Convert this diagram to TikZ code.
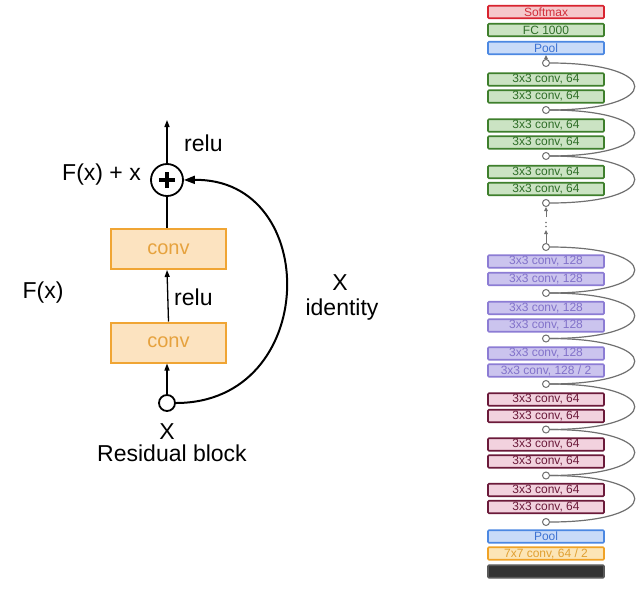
\documentclass[tikz,border=0pt]{standalone}
\usepackage{fontspec}
\setmainfont{Liberation Sans}
\usetikzlibrary{arrows.meta,backgrounds}
\definecolor{convF}{HTML}{FCE3C0}
\definecolor{convD}{HTML}{F0A534}
\definecolor{convT}{HTML}{E6A23E}
\definecolor{smxF}{HTML}{F5C8CB}
\definecolor{smxD}{HTML}{D8232F}
\definecolor{smxT}{HTML}{D22E3A}
\definecolor{grnF}{HTML}{CBE3C3}
\definecolor{grnD}{HTML}{3E7F2C}
\definecolor{grnT}{HTML}{2F6E28}
\definecolor{bluF}{HTML}{C9DBF8}
\definecolor{bluD}{HTML}{4C88E2}
\definecolor{bluT}{HTML}{3D72D2}
\definecolor{purF}{HTML}{CBC4EE}
\definecolor{purD}{HTML}{8C7CD4}
\definecolor{purT}{HTML}{8272CA}
\definecolor{marF}{HTML}{F2D2DE}
\definecolor{marD}{HTML}{6B1A3A}
\definecolor{marT}{HTML}{6B1A3A}
\definecolor{orgF}{HTML}{FCE5B6}
\definecolor{orgD}{HTML}{F0A226}
\definecolor{orgT}{HTML}{E0A032}
\definecolor{lineG}{HTML}{707070}
\begin{document}
\begin{tikzpicture}[x=1pt,y=-1pt,
  lbl/.style={font=\fontsize{23}{26}\selectfont, inner sep=0pt},
  convbox/.style={draw=convD, fill=convF, line width=2pt, minimum width=115pt, minimum height=40pt, inner sep=0pt, text=convT, font=\fontsize{20}{23}\selectfont},
  arr/.style={line width=1.3pt, -{Triangle[length=7pt,width=5pt]}},
  blk/.style={draw, rounded corners=1pt, line width=1.6pt, minimum width=116pt, minimum height=12.5pt, inner sep=0pt, font=\fontsize{12}{12}\selectfont},
  smx/.style={blk, draw=smxD, fill=smxF, text=smxT},
  grn/.style={blk, draw=grnD, fill=grnF, text=grnT},
  blu/.style={blk, draw=bluD, fill=bluF, text=bluT},
  pur/.style={blk, draw=purD, fill=purF, text=purT},
  mar/.style={blk, draw=marD, fill=marF, text=marT},
  org/.style={blk, draw=orgD, fill=orgF, text=orgT},
  drk/.style={blk, draw=black!65, fill=black!80},
  jn/.style={circle, draw=lineG, fill=white, line width=1pt, minimum size=7pt, inner sep=0pt},
  skip/.style={draw=lineG, line width=1.2pt},
  sarr/.style={draw=lineG, line width=1pt, -{Triangle[length=4pt,width=3.5pt]}}
]
\useasboundingbox (0,0) rectangle (644,589);
\fill[white] (0,0) rectangle (644,589);

% ---------------- Left: residual block ----------------
\node[circle, draw, line width=1.8pt, minimum size=32pt, inner sep=0pt] (p) at (167,180) {};
\draw[line width=3.6pt] ([xshift=-8pt]p.center) -- ([xshift=8pt]p.center);
\draw[line width=3.6pt] ([yshift=-8pt]p.center) -- ([yshift=8pt]p.center);
\node[convbox] (c2) at (168.5,249) {conv};
\node[convbox] (c1) at (168.5,342.5) {conv};
\node[circle, draw, line width=1.8pt, minimum size=16pt, inner sep=0pt] (s) at (167,403) {};
\coordinate (top) at (167,120);

\draw[arr] (p.north) -- (top);
\draw[line width=1.3pt] (c2.north -| p.south) -- (p.south);
\draw[arr] (c1.north -| c2.south) -- (c2.south -| p.south);
\draw[arr] (s.north) -- (s.north |- c1.south);
\draw[line width=2pt, -{Triangle[length=11pt,width=8pt]}] (s.east) .. controls (320,403) and (322,178) .. (p.east);

\node[lbl, anchor=west] (relu1) at (184,143) {relu};
\node[lbl, anchor=east] (fxx) at (141,175) {F(x) + x};
\node[lbl, anchor=west] (relu2) at (174,297) {relu};
\node[lbl] (fx) at (43,293) {F(x)};
\node[lbl] (xid) at (340,283) {X};
\node[lbl] (iden) at (342,310) {identity};
\node[lbl] (xin) at (167,432) {X};
\node[lbl] (rb) at (172,453) {Residual block};

% ---------------- Right: ResNet column ----------------
\node[smx] (softmax) at (546,12) {Softmax};
\node[grn] (fc) at (546,30) {FC 1000};
\node[blu] (pool1) at (546,48) {Pool};

\node[grn] (g1a) at (546,79.5) {3x3 conv, 64};
\node[grn] (g1b) at (546,96.5) {3x3 conv, 64};
\node[grn] (g2a) at (546,125.5) {3x3 conv, 64};
\node[grn] (g2b) at (546,142.5) {3x3 conv, 64};
\node[grn] (g3a) at (546,172) {3x3 conv, 64};
\node[grn] (g3b) at (546,189) {3x3 conv, 64};

\node[pur] (p1a) at (546,261.5) {3x3 conv, 128};
\node[pur] (p1b) at (546,279) {3x3 conv, 128};
\node[pur] (p2a) at (546,308) {3x3 conv, 128};
\node[pur] (p2b) at (546,325.5) {3x3 conv, 128};
\node[pur] (p3a) at (546,353.5) {3x3 conv, 128};
\node[pur] (p3b) at (546,370.5) {3x3 conv, 128 / 2};

\node[mar] (m1a) at (546,399.5) {3x3 conv, 64};
\node[mar] (m1b) at (546,416) {3x3 conv, 64};
\node[mar] (m2a) at (546,444.5) {3x3 conv, 64};
\node[mar] (m2b) at (546,461.5) {3x3 conv, 64};
\node[mar] (m3a) at (546,490) {3x3 conv, 64};
\node[mar] (m3b) at (546,507) {3x3 conv, 64};

\node[blu] (pool2) at (546,536.5) {Pool};
\node[org] (conv7) at (546,553.5) {7x7 conv, 64 / 2};
\node[drk] (img) at (546,571.5) {};

\node[jn] (j1) at (546,63) {};
\node[jn] (j2) at (546,110) {};
\node[jn] (j3) at (546,156) {};
\node[jn] (j4) at (546,203) {};
\node[jn] (j5) at (546,247) {};
\node[jn] (j6) at (546,293) {};
\node[jn] (j7) at (546,338.5) {};
\node[jn] (j8) at (546,384) {};
\node[jn] (j9) at (546,429.5) {};
\node[jn] (j10) at (546,475.5) {};
\node[jn] (j11) at (546,522) {};
\coordinate (d1) at (546,217);
\coordinate (d2) at (546,230);

\begin{pgfonlayer}{background}
\draw[lineG, line width=0.8pt] (j1.center) -- (j4.center);
\draw[lineG, line width=0.8pt] (j5.center) -- (pool2.north);
\end{pgfonlayer}

\draw[sarr] (j1.north) -- (pool1.south);
\draw[sarr] (d1) -- (j4.south);
\draw[sarr] (j5.north) -- (d2);
\fill[lineG] (546,222.5) circle (0.9pt);
\fill[lineG] (546,226.5) circle (0.9pt);

\foreach \a/\b in {j1/j2, j2/j3, j3/j4, j5/j6, j6/j7, j7/j8, j8/j9, j9/j10, j10/j11}{
  \draw[skip] (\a.east) .. controls +(113,0) and +(113,0) .. (\b.east);
}
\end{tikzpicture}
\end{document}
